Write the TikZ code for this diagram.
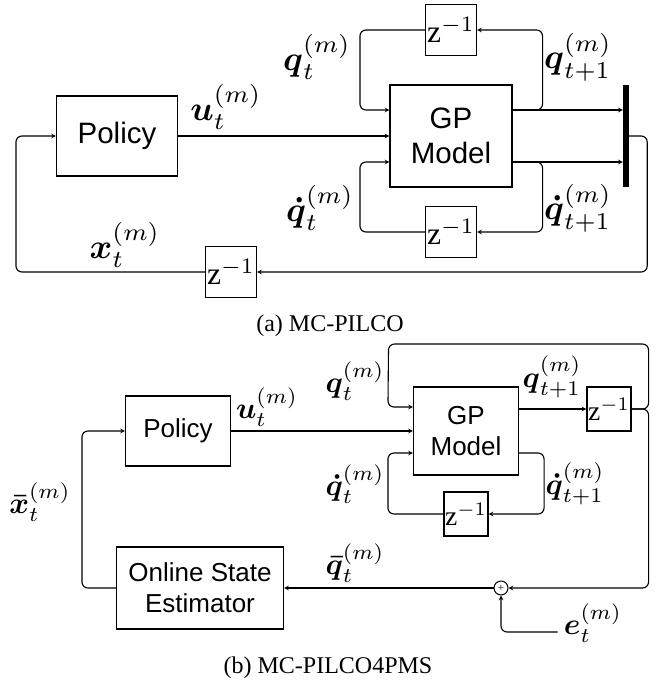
\documentclass[tikz,border=0pt]{standalone}
\usepackage{amsmath,amssymb}
\usepackage{fontspec}
\setmainfont{Liberation Serif}
\setsansfont{Liberation Sans}
\usetikzlibrary{positioning,arrows}
\newcommand{\mla}[1]{\scalebox{3.45}{$#1$}}
\newcommand{\mlb}[1]{\scalebox{3.0}{$#1$}}
\newcommand{\zdela}{\scalebox{3.15}{$\mathrm{z}^{-1}$}}
\newcommand{\zdelb}{\scalebox{2.75}{$\mathrm{z}^{-1}$}}
\tikzstyle{blk} = [draw, rectangle, line width=1.1pt, inner sep=0pt, align=center]
\tikzstyle{lbl} = [inner sep=0pt]
\tikzstyle{wire} = [draw, line width=1.1pt, -stealth, rounded corners=6pt]
\tikzstyle{sansA} = [font=\sffamily\fontsize{29.5}{35}\selectfont]
\tikzstyle{sansB} = [font=\sffamily\fontsize{26}{31}\selectfont]

\begin{document}
\begin{tikzpicture}[x=1pt, y=-1pt]
\useasboundingbox (0,0) rectangle (670,687);

% (a) MC-PILCO
\node[blk, sansA, minimum width=121pt, minimum height=80pt] (pol) at (117,136) {Policy};
\node[blk, sansA, minimum width=122pt, minimum height=102pt] (gp) at (451,136) {GP\\Model};
\node[blk, minimum size=51pt] (zq) at (451,30) {\zdela};
\node[blk, minimum size=51pt] (zdq) at (451,232) {\zdela};
\node[blk, minimum size=51pt] (zx) at (231,272) {\zdela};
\node[fill, inner sep=0pt, minimum width=6pt, minimum height=102pt] (bar) at (626,136) {};

\draw[wire] (pol) -- (gp);
\draw[wire] ([yshift=26pt]gp.east) -- ([yshift=26pt]gp.east -| bar.west);
\draw[wire] ([yshift=-26pt]gp.east) -- ([yshift=-26pt]gp.east -| bar.west);
\draw[wire] ([yshift=26pt]gp.east) -- ++(30,0) |- (zq.east);
\draw[wire] (zq.west) -- ++(-65,0) |- ([yshift=26pt]gp.west);
\draw[wire] ([yshift=-26pt]gp.east) -- ++(30,0) |- (zdq.east);
\draw[wire] (zdq.west) -- ++(-65,0) |- ([yshift=-26pt]gp.west);
\draw[wire] (bar.east) -- ++(18,0) |- (zx.east);
\draw[wire] (zx.west) -| ([xshift=-40pt]pol.west) -- (pol.west);

\node[lbl] (qa) at (317,57) {\mla{\boldsymbol{q}_t^{(m)}}};
\node[lbl] (qna) at (578,57) {\mla{\boldsymbol{q}_{t+1}^{(m)}}};
\node[lbl] (ua) at (226,107) {\mla{\boldsymbol{u}_t^{(m)}}};
\node[lbl] (dqa) at (320,208) {\mla{\boldsymbol{\dot{q}}_t^{(m)}}};
\node[lbl] (dqna) at (578,208) {\mla{\boldsymbol{\dot{q}}_{t+1}^{(m)}}};
\node[lbl] (xa) at (125,245) {\mla{\boldsymbol{x}_t^{(m)}}};
\node[font=\fontsize{24}{28}\selectfont] (capa) at (330,326) {(a) MC-PILCO};

% (b) MC-PILCO4PMS
\node[blk, sansB, minimum width=105pt, minimum height=70pt] (pol2) at (178,431) {Policy};
\node[blk, sansB, minimum width=105pt, minimum height=88pt] (gp2) at (466,431) {GP\\Model};
\node[blk, minimum size=44pt] (zq2) at (609,409) {\zdelb};
\node[blk, minimum size=44pt] (zdq2) at (466,514) {\zdelb};
\node[blk, sansB, minimum width=167pt, minimum height=82pt] (ose) at (200,588) {Online State\\Estimator};
\node[draw, circle, line width=1pt, inner sep=0pt, minimum size=14pt, font=\fontsize{11}{11}\selectfont] (sum) at (501,588) {+};
\node[lbl] (eb) at (593,623) {\mlb{\boldsymbol{e}_t^{(m)}}};

\draw[wire] (pol2) -- (gp2);
\draw[wire] (gp2.east |- zq2.west) -- (zq2.west);
\draw[wire] (zq2.east) -- ++(17,0) |- ++(-260,-65) -- ([xshift=-25pt,yshift=24pt]gp2.west) -- ([yshift=24pt]gp2.west);
\draw[wire] (zq2.east) -- ++(17,0) |- (sum.east);
\draw[wire] ([yshift=-22pt]gp2.east) -- ++(25,0) |- (zdq2.east);
\draw[wire] (zdq2.west) -| ([xshift=-25pt,yshift=-22pt]gp2.west) -- ([yshift=-22pt]gp2.west);
\draw[wire] (sum) -- (ose);
\draw[wire] (ose.west) -- ++(-34,0) |- (pol2.west);
\draw[wire] ([xshift=-6pt,yshift=-9pt]eb.west) -| (sum.south);

\node[lbl] (qb) at (355,381) {\mlb{\boldsymbol{q}_t^{(m)}}};
\node[lbl] (ub) at (267,407) {\mlb{\boldsymbol{u}_t^{(m)}}};
\node[lbl] (qnb) at (552,377) {\mlb{\boldsymbol{q}_{t+1}^{(m)}}};
\node[lbl] (dqb) at (355,484) {\mlb{\boldsymbol{\dot{q}}_t^{(m)}}};
\node[lbl] (dqnb) at (575,484) {\mlb{\boldsymbol{\dot{q}}_{t+1}^{(m)}}};
\node[lbl] (qbarb) at (355,563) {\mlb{\boldsymbol{\bar{q}}_t^{(m)}}};
\node[lbl] (xbarb) at (40,502) {\mlb{\boldsymbol{\bar{x}}_t^{(m)}}};
\node[font=\fontsize{24}{28}\selectfont] (capb) at (328,668) {(b) MC-PILCO4PMS};
\end{tikzpicture}
\end{document}
